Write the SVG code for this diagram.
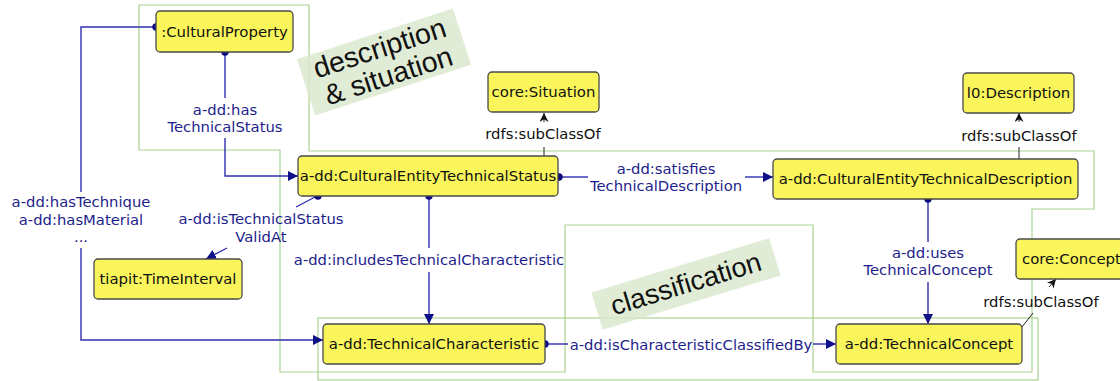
<svg xmlns="http://www.w3.org/2000/svg" width="1120" height="381" viewBox="0 0 1120 381">
<defs>
<style>
.node rect{fill:#f9f55a;stroke:#4a4a4a;stroke-width:1.3}
.node text{font-family:"DejaVu Sans",sans-serif;font-size:14.9px;fill:#111;text-anchor:middle}
.edge{fill:none;stroke:#2f2fb0;stroke-width:1.4}
.sub{fill:none;stroke:#222;stroke-width:1}
.elbl{font-family:"DejaVu Sans",sans-serif;font-size:14.8px;fill:#1e1e8c;text-anchor:middle}
.slbl{font-family:"DejaVu Sans",sans-serif;font-size:14.8px;fill:#111;text-anchor:middle}
.dot{fill:#0a0a80}
.grp{fill:none;stroke:#a9d391;stroke-width:1.2}
.tag{fill:#d9e7cc;fill-opacity:0.8}
.tagt{font-family:"Liberation Sans",Arial,sans-serif;fill:#111;text-anchor:middle}
</style>
<marker id="ba" viewBox="0 0 10 10" refX="10" refY="5" markerWidth="10" markerHeight="10" markerUnits="userSpaceOnUse" orient="auto"><path d="M0,0 L10,5 L0,10 Z" fill="#0f0f88"/></marker>
<marker id="ka" viewBox="0 0 10 10" refX="10" refY="5" markerWidth="10" markerHeight="9" markerUnits="userSpaceOnUse" orient="auto"><path d="M0,0 L10,5 L0,10 L3,5 Z" fill="#111"/></marker>
</defs>
<rect width="1120" height="381" fill="#ffffff"/>

<g id="groups">
<polygon class="grp" points="139,5 309,5 309,151 1094,151 1094,209 1032,209 1032,372 813,372 813,225 565,225 565,372 280,372 280,150 139,150"/>
<rect class="grp" x="318" y="318" width="720" height="62"/>
<g id="label-description" transform="translate(384,62) rotate(-18)">
<rect class="tag" x="-82" y="-29.5" width="164" height="59"/>
<text class="tagt" x="0" y="-5" font-size="28.5">description</text>
<text class="tagt" x="0" y="24" font-size="28.5">&amp; situation</text>
</g>
<g id="label-classification" transform="translate(686,284) rotate(-17)">
<rect class="tag" x="-93" y="-19.5" width="186" height="39"/>
<text class="tagt" x="0" y="9" font-size="27.5">classification</text>
</g>
</g>

<g id="connectors">
<path class="edge" d="M156,27 H81 V192"/>
<path class="edge" d="M81,248 V340 H323" marker-end="url(#ba)"/>
<text class="elbl" x="81" y="207">a-dd:hasTechnique</text>
<text class="elbl" x="81" y="225">a-dd:hasMaterial</text>
<text class="elbl" x="81" y="242">...</text>
<circle class="dot" cx="156" cy="27" r="3.7"/>
<path class="edge" d="M225,52 V98"/>
<path class="edge" d="M225,138 V176 H298" marker-end="url(#ba)"/>
<text class="elbl" x="225" y="115">a-dd:has</text>
<text class="elbl" x="225" y="132">TechnicalStatus</text>
<circle class="dot" cx="225" cy="52" r="3.7"/>
<path class="edge" d="M558,177 H588"/>
<path class="edge" d="M745,177 H773" marker-end="url(#ba)"/>
<text class="elbl" x="666" y="174">a-dd:satisfies</text>
<text class="elbl" x="666" y="191">TechnicalDescription</text>
<circle class="dot" cx="559" cy="177" r="3.7"/>
<path class="edge" d="M317,196 L296,207"/>
<path class="edge" d="M227,248 L206,259" marker-end="url(#ba)"/>
<text class="elbl" x="261" y="224">a-dd:isTechnicalStatus</text>
<text class="elbl" x="261" y="242">ValidAt</text>
<circle class="dot" cx="318" cy="196" r="3.7"/>
<path class="edge" d="M429,196 V248"/>
<path class="edge" d="M429,272 V324" marker-end="url(#ba)"/>
<text class="elbl" x="429" y="265">a-dd:includesTechnicalCharacteristic</text>
<circle class="dot" cx="429" cy="196" r="3.7"/>
<path class="edge" d="M928,199 V242"/>
<path class="edge" d="M928,282 V324" marker-end="url(#ba)"/>
<text class="elbl" x="928" y="258">a-dd:uses</text>
<text class="elbl" x="928" y="275">TechnicalConcept</text>
<circle class="dot" cx="928" cy="199" r="3.7"/>
<path class="edge" d="M545,344 H568"/>
<path class="edge" d="M813,344 H836" marker-end="url(#ba)"/>
<text class="elbl" x="691" y="350">a-dd:isCharacteristicClassifiedBy</text>
<circle class="dot" cx="545" cy="344" r="3.7"/>
<path class="sub" d="M544,156 V147"/>
<path class="sub" d="M544,122 V113" marker-end="url(#ka)"/>
<text class="slbl" x="543" y="139">rdfs:subClassOf</text>
<path class="sub" d="M1019,159 V147"/>
<path class="sub" d="M1019,122 V113" marker-end="url(#ka)"/>
<text class="slbl" x="1019" y="141">rdfs:subClassOf</text>
<path class="sub" d="M1022,327 L1033,313"/>
<path class="sub" d="M1049,287 L1056,279" marker-end="url(#ka)"/>
<text class="slbl" x="1041" y="307">rdfs:subClassOf</text>
</g>

<g id="n-culturalproperty" class="node"><rect x="156" y="11" width="137" height="41" rx="4"/><text x="224.5" y="37">:CulturalProperty</text></g>
<g id="n-situation" class="node"><rect x="488" y="72" width="111" height="40" rx="4"/><text x="543.5" y="97">core:Situation</text></g>
<g id="n-description" class="node"><rect x="963" y="73" width="111" height="40" rx="4"/><text x="1018.5" y="98">l0:Description</text></g>
<g id="n-cets" class="node"><rect x="298" y="156" width="260" height="40" rx="4"/><text x="428" y="181">a-dd:CulturalEntityTechnicalStatus</text></g>
<g id="n-cetd" class="node"><rect x="773" y="159" width="305" height="40" rx="4"/><text x="925.5" y="184">a-dd:CulturalEntityTechnicalDescription</text></g>
<g id="n-timeinterval" class="node"><rect x="94" y="259" width="148" height="40" rx="4"/><text x="168" y="284">tiapit:TimeInterval</text></g>
<g id="n-techchar" class="node"><rect x="323" y="324" width="222" height="40" rx="4"/><text x="434" y="349">a-dd:TechnicalCharacteristic</text></g>
<g id="n-techconcept" class="node"><rect x="836" y="324" width="186" height="40" rx="4"/><text x="929" y="349">a-dd:TechnicalConcept</text></g>
<g id="n-concept" class="node"><rect x="1016" y="239" width="120" height="40" rx="4"/><text x="1022" y="264" style="text-anchor:start">core:Concept</text></g>
</svg>
